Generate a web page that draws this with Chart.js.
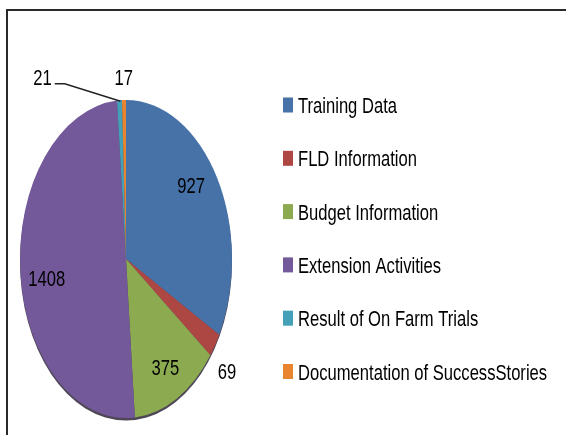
<!DOCTYPE html>
<html>
<head>
<meta charset="utf-8">
<script src="https://cdn.jsdelivr.net/npm/chart.js@4/dist/chart.umd.min.js"></script>
<style>
  html, body { margin: 0; padding: 0; background: #ffffff; }
  #wrap { position: relative; width: 566px; height: 435px; overflow: hidden; }
  #frame { position: absolute; left: 6px; top: 9px; width: 560px; height: 426px;
           border-top: 2px solid #2a2a2a; border-left: 2px solid #2a2a2a; box-sizing: border-box; pointer-events: none; }
  canvas { position: absolute; left: 0; top: 0; }
</style>
</head>
<body>
<div id="wrap">
  <canvas id="c" width="566" height="435"></canvas>
  <div id="frame"></div>
</div>
<script>
const categories = [
  "Training Data",
  "FLD Information",
  "Budget Information",
  "Extension Activities",
  "Result of On Farm Trials",
  "Documentation of SuccessStories"
];
const values = [927, 69, 375, 1408, 21, 17];
const colors = ["#4672a8", "#ad4744", "#8cab50", "#73599a", "#43a0b8", "#e9852f"];

const FONT = "'Liberation Sans', Arial, sans-serif";
const SX_TEXT = 0.83;  // narrow text look
const SY_TEXT = 1.12;  // tall text look
const SY = 1.5;        // vertical stretch of the pie

// draws text whose cap-height centre is at y
function narrowText(ctx, txt, x, y, align) {
  const w = ctx.measureText(txt).width * SX_TEXT;
  let left = x;
  if (align === 'center') left = x - w / 2;
  else if (align === 'right') left = x - w;
  ctx.save();
  ctx.translate(left, y + 8);
  ctx.scale(SX_TEXT, SY_TEXT);
  ctx.textAlign = 'left';
  ctx.textBaseline = 'alphabetic';
  ctx.fillText(txt, 0, 0);
  ctx.restore();
  return w;
}

const ellipsePie = {
  id: 'ellipsePie',
  beforeDatasetsDraw(chart) {
    const a = chart.getDatasetMeta(0).data[0];
    const ctx = chart.ctx;
    const x = a.x, y = a.y, r = a.outerRadius;
    ctx.save();
    ctx.fillStyle = 'rgba(35,25,45,0.8)';
    ctx.beginPath();
    ctx.ellipse(x, y + 2.5, r, r * SY, 0, 0, Math.PI * 2);
    ctx.fill();
    ctx.restore();
    ctx.save();
    ctx.translate(x, y);
    ctx.scale(1, SY);
    ctx.translate(-x, -y);
  },
  afterDatasetsDraw(chart) {
    const ctx = chart.ctx;
    ctx.restore();
    const meta = chart.getDatasetMeta(0);
    const data = chart.data.datasets[0].data;
    const total = data.reduce((s, v) => s + v, 0);
    const nudge = {0: [-5, -11], 1: [-4, 9], 2: [0, 1], 3: [2, 9]};
    ctx.save();
    ctx.font = "20px " + FONT;
    ctx.fillStyle = '#000';
    meta.data.forEach((arc, i) => {
      const mid = (arc.startAngle + arc.endAngle) / 2;
      const R = arc.outerRadius;
      const frac = data[i] / total;
      const txt = String(data[i]);
      if (frac > 0.05) {
        const f = 0.77;
        const px = arc.x + Math.cos(mid) * R * f;
        const py = arc.y + Math.sin(mid) * R * f * SY;
        const n = nudge[i] || [0, 0];
        narrowText(ctx, txt, px + n[0], py + n[1], 'center');
      } else if (i === 4) {
        const ax = arc.x + Math.cos(mid) * R;
        const ay = arc.y + Math.sin(mid) * R * SY;
        const lx = ax - 77, ly = ay - 23.5;
        const w = narrowText(ctx, txt, lx, ly, 'center');
        ctx.strokeStyle = '#222';
        ctx.lineWidth = 1.5;
        ctx.beginPath();
        ctx.moveTo(lx + w / 2 + 3, ly + 7);
        ctx.lineTo(lx + w / 2 + 13, ly + 7);
        ctx.lineTo(ax + 1, ay + 1);
        ctx.stroke();
      } else {
        const f = i === 5 ? 1.15 : 1.18;
        const px = arc.x + Math.cos(mid) * R * f;
        const py = arc.y + Math.sin(mid) * R * f * SY;
        const n = nudge[i] || [0, 0];
        narrowText(ctx, txt, px + n[0], py + n[1] + 1, 'center');
      }
    });
    ctx.restore();
  },
  afterDraw(chart) {
    const ctx = chart.ctx;
    ctx.save();
    ctx.font = "20px " + FONT;
    const x0 = 283, y0 = 105, pitch = 53.3;
    chart.data.labels.forEach((lab, i) => {
      const cy = y0 + i * pitch;
      ctx.fillStyle = chart.data.datasets[0].backgroundColor[i];
      ctx.fillRect(x0, cy - 7.5, 10, 15);
      ctx.fillStyle = '#000';
      narrowText(ctx, lab, x0 + 15, cy, 'left');
    });
    ctx.restore();
  }
};

new Chart(document.getElementById('c'), {
  type: 'pie',
  data: {
    labels: categories,
    datasets: [{
      data: values,
      backgroundColor: colors,
      borderWidth: 0
    }]
  },
  options: {
    responsive: false,
    animation: false,
    devicePixelRatio: 1,
    events: [],
    layout: { padding: { left: 20, right: 334, top: 153, bottom: 70 } },
    plugins: {
      legend: { display: false },
      tooltip: { enabled: false },
      title: { display: false }
    }
  },
  plugins: [ellipsePie]
});
</script>
</body>
</html>
